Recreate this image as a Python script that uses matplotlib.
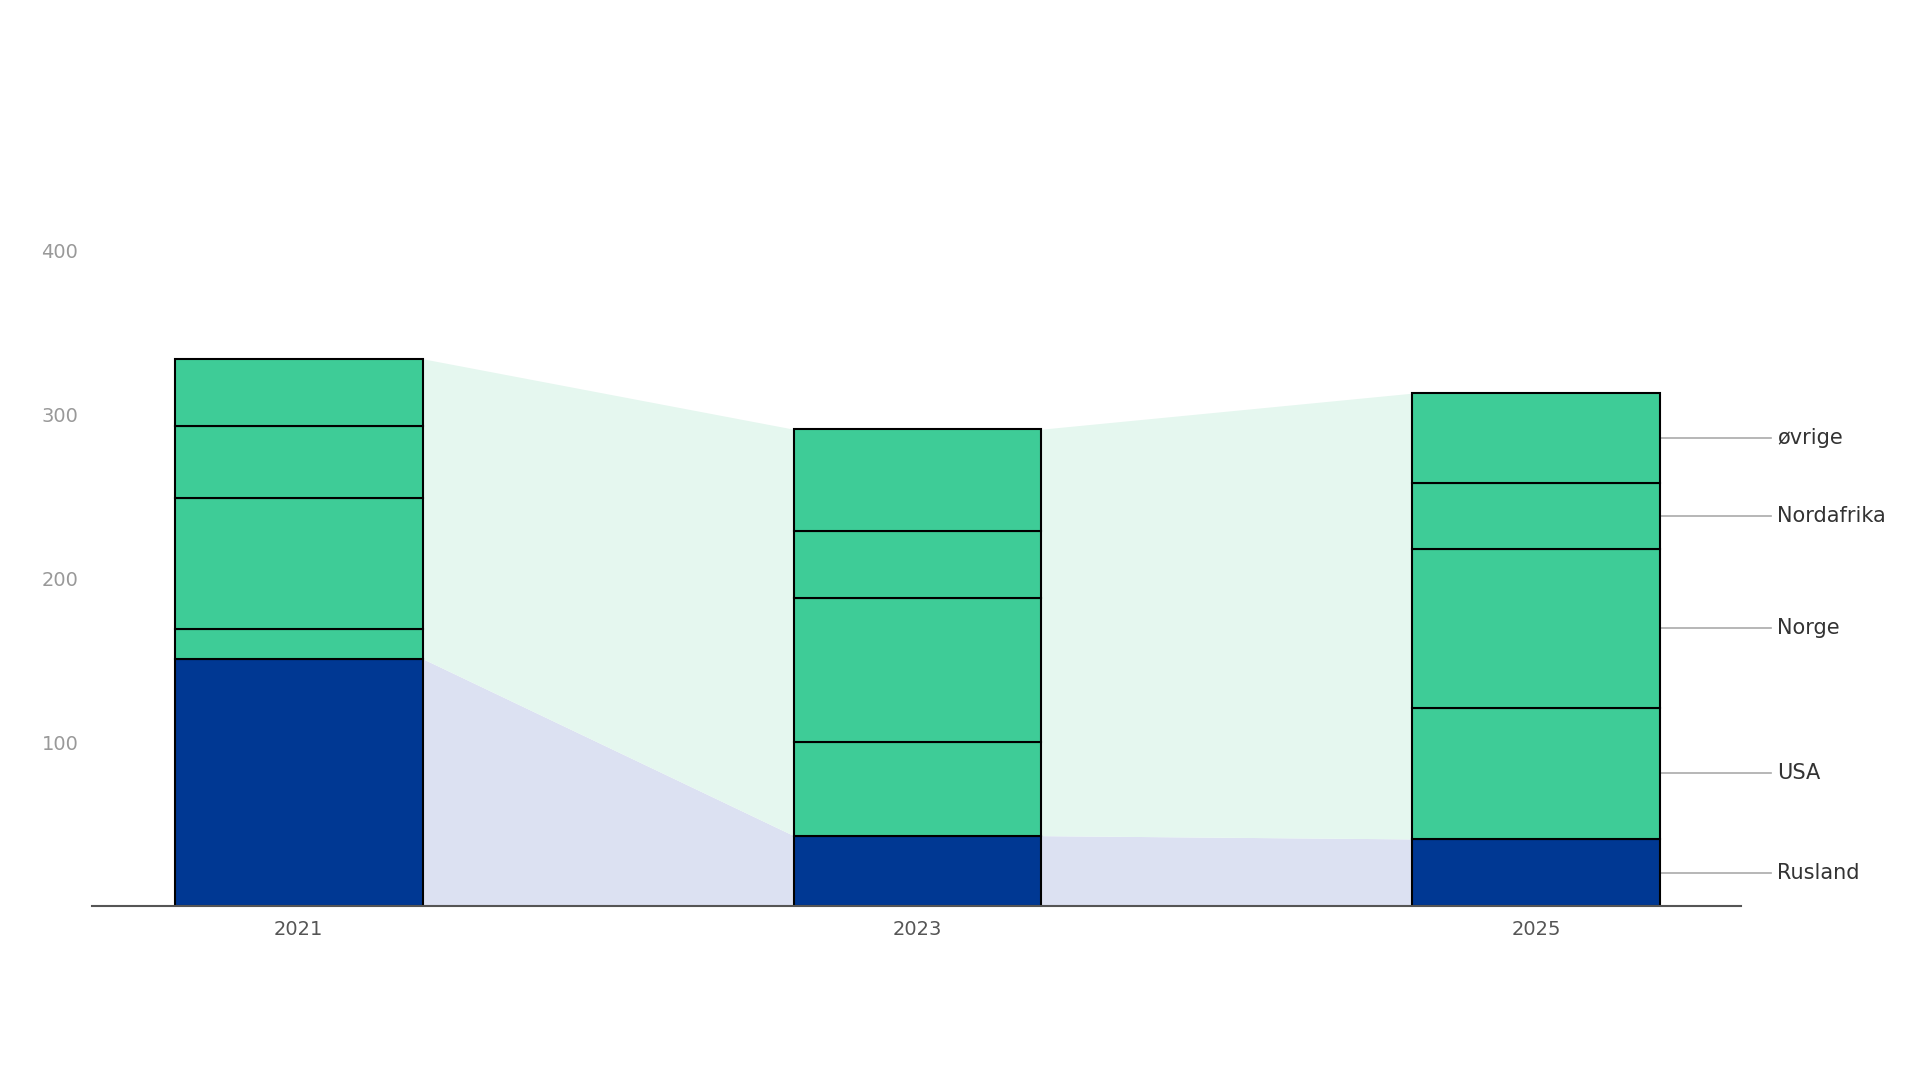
import numpy as np
import matplotlib.pyplot as plt

years = ["2021", "2023", "2025"]
categories = ["Rusland", "USA", "Norge", "Nordafrika", "øvrige"]
rusland = [151, 43, 41]
usa = [18, 57, 80]
norge = [80, 88, 97]
nordafrika = [44, 41, 40]
ovrige = [41, 62, 55]

series = [rusland, usa, norge, nordafrika, ovrige]
colors = ["#003893", "#3ecc97", "#3ecc97", "#3ecc97", "#3ecc97"]

fig = plt.figure(figsize=(19.2, 10.8), dpi=100)
ax = fig.add_axes([0.048, 0.161, 0.859, 0.607])

x = np.arange(len(years))
w = 0.4
bottoms = np.zeros(len(years))
for vals, c in zip(series, colors):
    ax.bar(x, vals, w, bottom=bottoms, color=c, edgecolor="black", linewidth=1.5, zorder=3)
    bottoms += np.array(vals)
totals = bottoms

# connecting shaded bands between bars
rus = np.array(rusland)
for i in range(len(years) - 1):
    xs = [x[i] + w / 2, x[i + 1] - w / 2]
    ax.fill_between(xs, [0, 0], rus[i:i + 2], color="#dce1f2", lw=0, zorder=1)
    ax.fill_between(xs, rus[i:i + 2], totals[i:i + 2], color="#e5f7ef", lw=0, zorder=1)

# right-side labels for last bar
cum = 0
for name, vals in zip(categories, series):
    mid = cum + vals[-1] / 2
    cum += vals[-1]
    ax.plot([x[-1] + w / 2, x[-1] + 0.38], [mid, mid], color="#aaaaaa", lw=1.2, clip_on=False)
    ax.text(x[-1] + 0.39, mid, name, va="center", ha="left", fontsize=15, color="#333333")

ax.set_xlim(-0.334, 2.332)
ax.set_ylim(0, 400)
ax.set_xticks(x)
ax.set_xticklabels(years, fontsize=14, color="#555555")
ax.set_yticks([100, 200, 300, 400])
ax.set_yticklabels(["100", "200", "300", "400"], fontsize=14, color="#999999")
ax.tick_params(length=0, pad=10)
ax.tick_params(axis="y", pad=10)
for s in ["top", "right", "left"]:
    ax.spines[s].set_visible(False)
ax.spines["bottom"].set_color("#555555")
ax.spines["bottom"].set_linewidth(1.5)
ax.spines["bottom"].set_zorder(4)

fig.savefig("out.png", dpi=100)
